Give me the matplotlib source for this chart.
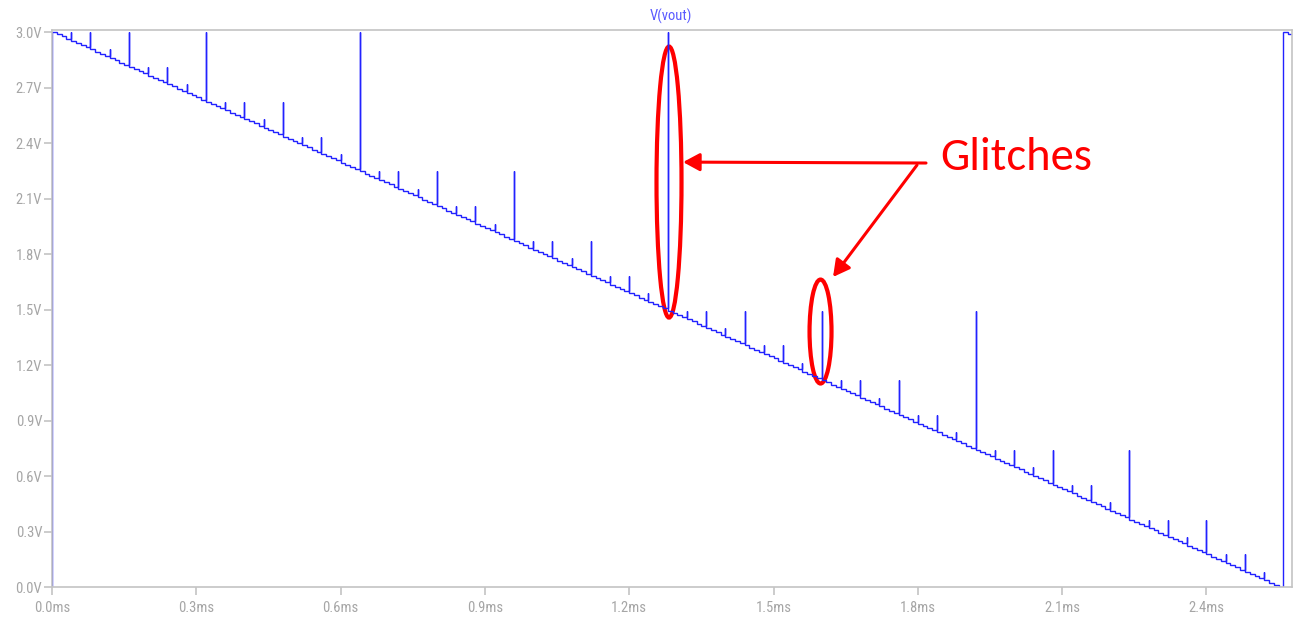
import numpy as np
import matplotlib.pyplot as plt
from matplotlib import font_manager
from matplotlib.patches import Ellipse

# DAC ramp: one code per 10 us step, counting down from full scale, then reset
T_STEP = 0.01   # ms
V_FS = 3.0      # volts at code 255

codes = [
    255, 254, 253, 252, 251, 250, 249, 248, 247, 246, 245, 244, 243, 242, 241, 240,
    239, 238, 237, 236, 235, 234, 233, 232, 231, 230, 229, 228, 227, 226, 225, 224,
    223, 222, 221, 220, 219, 218, 217, 216, 215, 214, 213, 212, 211, 210, 209, 208,
    207, 206, 205, 204, 203, 202, 201, 200, 199, 198, 197, 196, 195, 194, 193, 192,
    191, 190, 189, 188, 187, 186, 185, 184, 183, 182, 181, 180, 179, 178, 177, 176,
    175, 174, 173, 172, 171, 170, 169, 168, 167, 166, 165, 164, 163, 162, 161, 160,
    159, 158, 157, 156, 155, 154, 153, 152, 151, 150, 149, 148, 147, 146, 145, 144,
    143, 142, 141, 140, 139, 138, 137, 136, 135, 134, 133, 132, 131, 130, 129, 128,
    127, 126, 125, 124, 123, 122, 121, 120, 119, 118, 117, 116, 115, 114, 113, 112,
    111, 110, 109, 108, 107, 106, 105, 104, 103, 102, 101, 100, 99, 98, 97, 96,
    95, 94, 93, 92, 91, 90, 89, 88, 87, 86, 85, 84, 83, 82, 81, 80,
    79, 78, 77, 76, 75, 74, 73, 72, 71, 70, 69, 68, 67, 66, 65, 64,
    63, 62, 61, 60, 59, 58, 57, 56, 55, 54, 53, 52, 51, 50, 49, 48,
    47, 46, 45, 44, 43, 42, 41, 40, 39, 38, 37, 36, 35, 34, 33, 32,
    31, 30, 29, 28, 27, 26, 25, 24, 23, 22, 21, 20, 19, 18, 17, 16,
    15, 14, 13, 12, 11, 10, 9, 8, 7, 6, 5, 4, 3, 2, 1, 0,
    255, 254,
]

# step index where a glitch occurs and the code the output spikes to
glitch_step = [
    4, 8, 12, 16, 20, 24, 28, 32, 36, 40, 44, 48, 52, 56, 60, 64,
    68, 72, 76, 80, 84, 88, 92, 96, 100, 104, 108, 112, 116, 120, 124, 128,
    132, 136, 140, 144, 148, 152, 156, 160, 164, 168, 172, 176, 180, 184, 188, 192,
    196, 200, 204, 208, 212, 216, 220, 224, 228, 232, 236, 240, 244, 248, 252,
]
glitch_code = [
    255, 255, 247, 255, 239, 239, 231, 255, 223, 223, 215, 223, 207, 207, 199, 255,
    191, 191, 183, 191, 175, 175, 167, 191, 159, 159, 151, 159, 143, 143, 135, 255,
    127, 127, 119, 127, 111, 111, 103, 127, 95, 95, 87, 95, 79, 79, 71, 127,
    63, 63, 55, 63, 47, 47, 39, 63, 31, 31, 23, 31, 15, 15, 7,
]

x_ticks = [0.0, 0.3, 0.6, 0.9, 1.2, 1.5, 1.8, 2.1, 2.4]
y_ticks = [0.0, 0.3, 0.6, 0.9, 1.2, 1.5, 1.8, 2.1, 2.4, 2.7, 3.0]

available = {f.name for f in font_manager.fontManager.ttflist}
axis_font = next((f for f in ['Liberation Sans Narrow', 'Roboto Condensed', 'Liberation Sans']
                  if f in available), 'DejaVu Sans')
note_font = next((f for f in ['Carlito', 'Lato', 'Open Sans'] if f in available), 'DejaVu Sans')


def volts(c):
    return c * V_FS / 255


# build the waveform: starts at 0 V, step per code, spike at glitch steps
glitches = dict(zip(glitch_step, glitch_code))
xs = [0.0]
ys = [0.0]
for j, c in enumerate(codes):
    t0 = j * T_STEP
    if j in glitches:
        xs += [t0, t0]
        ys += [ys[-1], volts(glitches[j])]
    xs += [t0, t0 + T_STEP]
    ys += [volts(c), volts(c)]

fig = plt.figure(figsize=(12.94, 6.2), dpi=100)
ax = fig.add_axes([0.0402, 0.0532, 0.9583, 0.8984])

ax.plot(xs, ys, color='#2222ff', lw=1.0, solid_joinstyle='miter')

ax.set_xlim(0, 2.578)
ax.set_ylim(0, 3.011)
ax.set_xticks(x_ticks)
ax.set_xticklabels([f'{v:.1f}ms' for v in x_ticks])
ax.set_yticks(y_ticks)
ax.set_yticklabels([f'{v:.1f}V' for v in y_ticks])
for s in ax.spines.values():
    s.set_color('#c4c4c4')
    s.set_linewidth(1.2)
ax.tick_params(axis='both', colors='#c4c4c4', labelcolor='#a6a6a6', length=6, width=1.2,
               labelsize=10.5)
ax.tick_params(axis='y', pad=1)
ax.tick_params(axis='x', pad=4)
for lab in ax.get_xticklabels() + ax.get_yticklabels():
    lab.set_family(axis_font)

fig.text(0.5185, 0.974, 'V(vout)', color='#5a5aff', fontsize=10.5, family=axis_font,
         ha='center', va='center')

# annotations around the two marked glitches
ax.add_patch(Ellipse((1.2827, 2.189), 0.052, 1.465, fill=False, ec='red', lw=3))
ax.add_patch(Ellipse((1.5977, 1.381), 0.0457, 0.562, fill=False, ec='red', lw=3))
arrow = dict(arrowstyle='-|>,head_length=0.5,head_width=0.27', color='red', lw=2.2,
             mutation_scale=20, shrinkA=0, shrinkB=0)
ax.annotate('', xy=(1.3119, 2.297), xytext=(1.8170, 2.292), arrowprops=arrow)
ax.annotate('', xy=(1.6237, 1.676), xytext=(1.7983, 2.281), arrowprops=arrow)
ax.text(1.846, 2.254, 'Glitches', color='red', fontsize=33.5, family=note_font,
        ha='left', va='baseline')

fig.savefig('out.png', dpi=100)
